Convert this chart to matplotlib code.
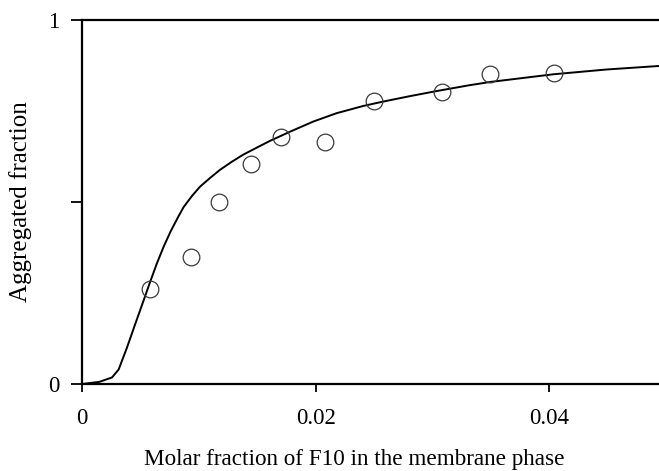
import numpy as np
import matplotlib
matplotlib.use("Agg")
import matplotlib.pyplot as plt

plt.rcParams["font.family"] = ["Liberation Serif", "DejaVu Serif"]

# measured aggregated fraction vs molar fraction of F10
x_meas = [0.0058, 0.0093, 0.0117, 0.0145, 0.0170, 0.0208, 0.0250, 0.0308, 0.0349, 0.0404]
y_meas = [0.261, 0.349, 0.500, 0.604, 0.679, 0.665, 0.778, 0.803, 0.853, 0.855]

# model curve
x_fit = [0.0, 0.0015, 0.00257, 0.00314, 0.00385, 0.00457, 0.00528, 0.00585,
         0.00642, 0.0070, 0.0076, 0.0082, 0.0087, 0.0094, 0.0101, 0.0110,
         0.0118, 0.0128, 0.0138, 0.0150, 0.0161, 0.0178, 0.0198, 0.0218,
         0.0241, 0.0258, 0.0281, 0.0304, 0.0332, 0.0350, 0.0404, 0.0449, 0.0500]
y_fit = [0.0, 0.006, 0.018, 0.040, 0.100, 0.166, 0.230, 0.282,
         0.332, 0.378, 0.420, 0.457, 0.486, 0.516, 0.542, 0.567,
         0.588, 0.610, 0.630, 0.650, 0.668, 0.693, 0.721, 0.744,
         0.764, 0.776, 0.791, 0.805, 0.821, 0.830, 0.851, 0.864, 0.875]

fig = plt.figure(figsize=(6.59, 4.71), dpi=100)
ax = fig.add_axes([82 / 659, 87 / 471, 584 / 659, 364 / 471])

ax.plot(x_fit, y_fit, color="black", lw=1.4)
ax.plot(x_meas, y_meas, "o", mfc="none", mec="#3a3a3a", mew=0.9, ms=12)

ax.set_xlim(0, 0.05)
ax.set_ylim(0, 1)
ax.set_xticks([0, 0.02, 0.04])
ax.set_xticklabels(["0", "0.02", "0.04"])
ax.set_yticks([0, 0.5, 1])
ax.set_yticklabels(["0", "", "1"])
ax.tick_params(axis="both", direction="out", length=6, width=1.3,
               labelsize=16.5, color="black")
ax.tick_params(axis="x", pad=11)
ax.tick_params(axis="y", length=8, pad=8)

for s in ax.spines.values():
    s.set_linewidth(1.6)

ax.set_xlabel("Molar fraction of F10 in the membrane phase", fontsize=16.7)
ax.xaxis.set_label_coords(0.467, -0.178)
ax.set_ylabel("Aggregated fraction", fontsize=18, labelpad=12)

fig.savefig("out.png", dpi=100)
